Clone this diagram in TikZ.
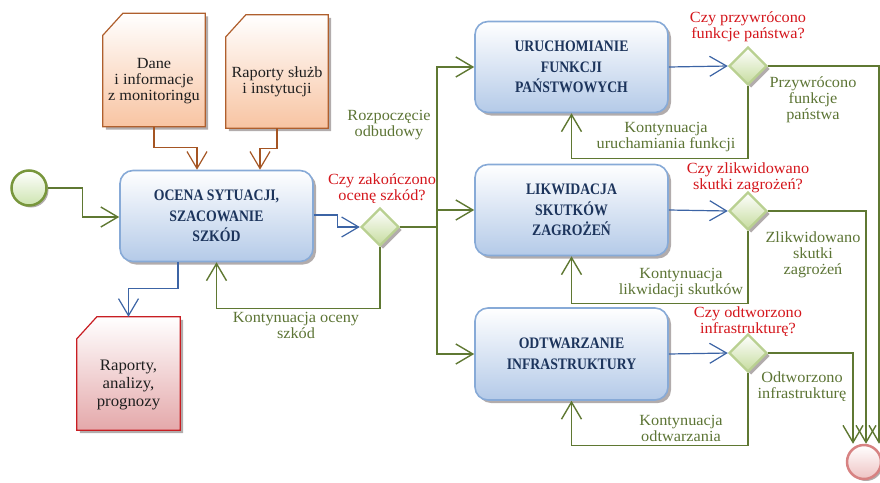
\documentclass[tikz,border=0pt]{standalone}
\usepackage{fontspec}
\setmainfont{Liberation Serif}
\newfontfamily\lblfamily[FakeStretch=1.05]{Liberation Serif}
\newfontfamily\taskfamily[FakeStretch=0.86]{Liberation Serif}
\usetikzlibrary{arrows.meta,shapes.geometric,shadows,calc}
\pgfdeclarelayer{bg}
\pgfsetlayers{bg,main}

\definecolor{lineG}{RGB}{95,120,50}
\definecolor{txtG}{RGB}{92,116,52}
\definecolor{txtR}{RGB}{212,22,28}
\definecolor{lineB}{RGB}{60,100,165}
\definecolor{lineBr}{RGB}{165,85,35}
\definecolor{boxB}{RGB}{135,170,215}
\definecolor{boxFill}{RGB}{180,202,232}
\definecolor{navy}{RGB}{28,52,92}
\definecolor{docBr}{RGB}{175,95,45}
\definecolor{docFill}{RGB}{248,196,162}
\definecolor{docR}{RGB}{200,30,35}
\definecolor{docPink}{RGB}{228,168,170}
\definecolor{gwBorder}{RGB}{185,208,145}
\definecolor{gwFill}{RGB}{198,220,158}
\definecolor{stG}{RGB}{120,150,60}
\definecolor{stFill}{RGB}{205,228,175}
\definecolor{endR}{RGB}{215,130,130}
\definecolor{endFill}{RGB}{238,195,195}
\definecolor{shade}{RGB}{178,172,172}

\tikzset{
  tip/.style={-{Straight Barb[length=17pt,width=20pt]}},
  flow/.style={draw=lineG, line width=1.4pt, tip},
  flowline/.style={draw=lineG, line width=1.8pt},
  dataflow/.style={draw=lineB, line width=1.2pt, tip},
  inflow/.style={draw=lineBr, line width=1.2pt, tip},
  lbl/.style={font=\lblfamily\fontsize{15.5}{16}\selectfont, align=center, inner sep=0pt},
  glbl/.style={lbl, text=txtG},
  rlbl/.style={lbl, text=txtR},
  softshadow/.style={general shadow={fill=shade, shadow xshift=3pt, shadow yshift=-3pt}},
  task/.style={rectangle, rounded corners=13pt, draw=boxB, line width=1.6pt,
    top color=white, bottom color=boxFill, minimum width=193pt, minimum height=91pt,
    align=center, text=navy, font=\taskfamily\bfseries\fontsize{16}{20.7}\selectfont, softshadow},
  frame/.style={rectangle, inner sep=0pt, minimum width=102pt, minimum height=113pt},
  doctext/.style={lbl, text=black!88},
  docpath/.style={line width=1.2pt, softshadow},
  gateway/.style={diamond, minimum width=38pt, minimum height=38pt, inner sep=0pt,
    draw=gwBorder, line width=2.4pt, top color=white, bottom color=gwFill, softshadow},
  event/.style={circle, minimum size=35pt, inner sep=0pt, line width=2.5pt,
    general shadow={fill=shade, shadow xshift=2pt, shadow yshift=-2pt}}
}

\begin{document}
\begin{tikzpicture}[x=1pt,y=-1pt]
\useasboundingbox (0,0) rectangle (880,482);

% events
\node[event, draw=stG, top color=white, bottom color=stFill] (start) at (29,188) {};
\node[event, draw=endR, top color=white, bottom color=endFill, minimum size=34pt] (end) at (864,462) {};

% main assessment task
\node[task] (ocena) at (216.5,216) {OCENA SYTUACJI,\\SZACOWANIE\\SZKÓD};

% data objects
\node[frame] (dane) at (154,70) {};
\node[frame] (rap) at (277,71.5) {};
\node[frame, minimum width=103pt] (out) at (128.5,373.5) {};
\node[doctext] (dane-t) at (154,81) {Dane\\i informacje\\z monitoringu};
\node[doctext] (rap-t) at (277,82) {Raporty służb\\i instytucji};
\node[doctext, font=\lblfamily\fontsize{16}{18}\selectfont] (out-t) at (128.5,385) {Raporty,\\analizy,\\prognozy};

\begin{pgfonlayer}{bg}
  \path[docpath, draw=docBr, top color=white, bottom color=docFill]
    (dane.south west) -- ([yshift=-22pt]dane.north west) -- ([xshift=20pt]dane.north west)
    -- (dane.north east) -- (dane.south east) -- cycle;
  \path[docpath, draw=docBr, top color=white, bottom color=docFill]
    (rap.south west) -- ([yshift=-22pt]rap.north west) -- ([xshift=20pt]rap.north west)
    -- (rap.north east) -- (rap.south east) -- cycle;
  \path[docpath, draw=docR, top color=white, bottom color=docPink]
    (out.south west) -- ([yshift=-22pt]out.north west) -- ([xshift=20pt]out.north west)
    -- (out.north east) -- (out.south east) -- cycle;
\end{pgfonlayer}

% recovery tasks
\node[task] (u) at (571.5,67) {URUCHOMIANIE\\FUNKCJI\\PAŃSTWOWYCH};
\node[task] (l) at (571.5,210) {LIKWIDACJA\\SKUTKÓW\\ZAGROŻEŃ};
\node[task, minimum height=92pt] (o) at (571.5,354) {ODTWARZANIE\\INFRASTRUKTURY};

% gateways
\node[gateway] (d1) at (380,227) {};
\node[gateway] (d2) at (748,66) {};
\node[gateway] (d3) at (748,211) {};
\node[gateway] (d4) at (748,353) {};

% inputs and outputs of the assessment
\draw[flow] (start.east) -- ++(35,0) |- ([yshift=-1pt]ocena.west);
\draw[inflow] (dane.south) -- ++(0,21) -| ([xshift=-19.5pt]ocena.north);
\draw[inflow] (rap.south) -- ++(0,20) -| ([xshift=43.5pt]ocena.north);
\draw[dataflow] ([xshift=-38.5pt]ocena.south) -- ++(0,26) -| (out.north);
\draw[dataflow] ([yshift=1pt]ocena.east) -- ++(24,0) |- (d1.west);
\draw[flow] (d1.south) -- ++(0,61) -| (ocena.south);

% start of reconstruction
\coordinate (split) at (437,227);
\draw[flowline] (d1.east) -- (split);
\draw[flow] (split) |- (u.west);
\draw[flow] (split) |- (l.west);
\draw[flow] (split) |- (o.west);

% task to gateway
\draw[dataflow] (u.east) -- (d2.west);
\draw[dataflow] (l.east) -- (d3.west);
\draw[dataflow] (o.east) -- (d4.west);

% continuation loops
\draw[flow] (d2.south) -- ++(0,72) -| (u.south);
\draw[flow] (d3.south) -- ++(0,72) -| (l.south);
\draw[flow] (d4.south) -- ++(0,72) -| (o.south);

% completion
\draw[flow] (d2.east) -| ([xshift=15pt]end.north);
\draw[flow] (d3.east) -| ([xshift=2pt]end.north);
\draw[flow] (d4.east) -| ([xshift=-11pt]end.north);

% labels
\node[rlbl] (q1) at (382,188.5) {Czy zakończono\\ocenę szkód?};
\node[glbl] (g1) at (389,125.5) {Rozpoczęcie\\odbudowy};
\node[glbl] (g2) at (296,325) {Kontynuacja oceny\\szkód};
\node[rlbl] (q2) at (748,27) {Czy przywrócono\\funkcje państwa?};
\node[glbl] (g3) at (813,100) {Przywrócono\\funkcje\\państwa};
\node[glbl] (g4) at (666,137) {Kontynuacja\\uruchamiania funkcji};
\node[rlbl] (q3) at (748,178) {Czy zlikwidowano\\skutki zagrożeń?};
\node[glbl] (g5) at (813,255) {Zlikwidowano\\skutki\\zagrożeń};
\node[glbl] (g6) at (681,283) {Kontynuacja\\likwidacji skutków};
\node[rlbl] (q4) at (748,322) {Czy odtworzono\\infrastrukturę?};
\node[glbl] (g7) at (802,387) {Odtworzono\\infrastrukturę};
\node[glbl] (g8) at (681,428) {Kontynuacja\\odtwarzania};
\end{tikzpicture}
\end{document}
